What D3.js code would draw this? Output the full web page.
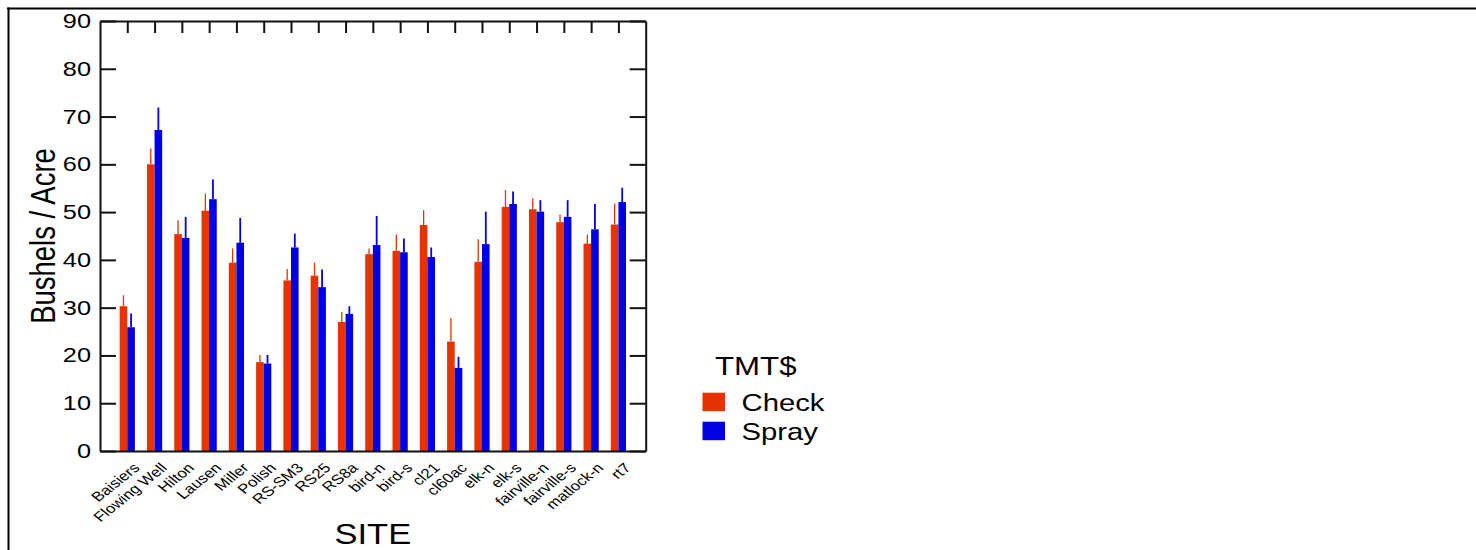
<!DOCTYPE html>
<html>
<head>
<meta charset="utf-8">
<script src="https://cdn.jsdelivr.net/npm/d3@7"></script>
<style>
  html, body { margin: 0; padding: 0; background: #fff; }
  text { font-family: "Liberation Sans", Arial, Helvetica, sans-serif; fill: #000; }
</style>
</head>
<body>
<svg id="chart" width="1476" height="550"></svg>
<script>
const categories = ["Baisiers", "Flowing Well", "Hilton", "Lausen", "Miller", "Polish", "RS-SM3", "RS25", "RS8a",
  "bird-n", "bird-s", "cl21", "cl60ac", "elk-n", "elk-s", "fairville-n", "fairville-s", "matlock-n", "rt7"];
const checkMeans = [30.3, 60.0, 45.4, 50.3, 39.4, 18.6, 35.7, 36.7, 27.0, 41.2, 41.9, 47.3, 22.9, 39.6, 51.1, 50.6, 47.9, 43.4, 47.4];
const checkSE    = [2.3, 3.3, 2.9, 3.6, 3.0, 1.5, 2.4, 2.7, 2.1, 1.2, 3.4, 3.1, 4.9, 4.7, 3.5, 2.3, 1.6, 1.9, 4.4];
const sprayMeans = [25.9, 67.2, 44.6, 52.7, 43.6, 18.3, 42.6, 34.3, 28.7, 43.1, 41.6, 40.6, 17.4, 43.3, 51.7, 50.1, 49.0, 46.4, 52.1];
const spraySE    = [2.9, 4.7, 4.4, 4.1, 5.2, 1.8, 2.9, 3.7, 1.6, 6.1, 2.9, 2.0, 2.3, 6.8, 2.6, 2.4, 3.5, 5.3, 3.0];
const yTicks = [0, 10, 20, 30, 40, 50, 60, 70, 80, 90];
const seriesNames = ["Check", "Spray"];
const seriesColors = ["#e63300", "#0000e2"];
const legendTitle = "TMT$";
const xTitle = "SITE";
const yTitle = "Bushels / Acre";

const SX = 1.25; // horizontal text stretch
const svg = d3.select("#chart");

const pL = 100, pR = 645.7, pT = 21, pB = 451;
const x = d3.scalePoint().domain(categories).range([pL, pR]).padding(1);
const y = d3.scaleLinear().domain([0, 90]).range([pB, pT]);

// outer frame (top and left edges)
svg.append("line").attr("x1", 7).attr("x2", 1476).attr("y1", 8.5).attr("y2", 8.5)
  .attr("stroke", "#000").attr("stroke-width", 2);
svg.append("line").attr("x1", 8.5).attr("x2", 8.5).attr("y1", 7.5).attr("y2", 550)
  .attr("stroke", "#000").attr("stroke-width", 2);

// bars
const data = categories.map((c, i) => ({
  c, vals: [ {m: checkMeans[i], se: checkSE[i], s: 0}, {m: sprayMeans[i], se: spraySE[i], s: 1} ]
}));
const barW = 7.6;
const g = svg.append("g");
data.forEach(d => {
  d.vals.forEach(v => {
    const x0 = v.s === 0 ? x(d.c) - barW : x(d.c);
    const cx = x0 + barW / 2;
    g.append("line").attr("x1", cx).attr("x2", cx)
      .attr("y1", y(v.m)).attr("y2", y(v.m + v.se))
      .attr("stroke", seriesColors[v.s]).attr("stroke-width", v.s === 0 ? 1.3 : 1.8);
    g.append("rect").attr("x", x0).attr("width", barW)
      .attr("y", y(v.m)).attr("height", y(0) - y(v.m))
      .attr("fill", seriesColors[v.s]);
  });
});

// axes
const axisStyle = sel => {
  sel.selectAll("path.domain").attr("stroke", "#111").attr("stroke-width", 2);
  sel.selectAll(".tick line").attr("stroke", "#111").attr("stroke-width", 2);
  sel.selectAll(".tick text").remove();
};
svg.append("g").attr("transform", `translate(${pL},0)`)
  .call(d3.axisLeft(y).tickValues(yTicks).tickSizeInner(-16).tickSizeOuter(0)).call(axisStyle);
svg.append("g").attr("transform", `translate(${pR},0)`)
  .call(d3.axisRight(y).tickValues(yTicks).tickSizeInner(-16).tickSizeOuter(0)).call(axisStyle);
svg.append("g").attr("transform", `translate(0,${pT})`)
  .call(d3.axisTop(x).tickSizeInner(-12).tickSizeOuter(0)).call(axisStyle);
svg.append("g").attr("transform", `translate(0,${pB})`)
  .call(d3.axisBottom(x).tickSizeInner(0).tickSizeOuter(0)).call(axisStyle);

// y tick labels
svg.append("g").selectAll("text").data(yTicks).join("text")
  .attr("transform", d => `translate(91,${y(d)}) scale(1.3,1)`)
  .attr("text-anchor", "end").attr("dy", "0.36em")
  .style("font-size", "19.5px").text(d => d);

// x category labels
svg.append("g").selectAll("text").data(categories).join("text")
  .attr("transform", d => `translate(${x(d) + 5},${pB + 11}) scale(${SX},1) rotate(-45)`)
  .attr("text-anchor", "end").attr("dy", "0.7em")
  .style("font-size", "13.5px").text(d => d);

// axis titles
svg.append("text")
  .attr("transform", `translate(55,${(pT + pB) / 2}) scale(1.3,1) rotate(-90)`)
  .attr("text-anchor", "middle").style("font-size", "27.5px").text(yTitle);
svg.append("text")
  .attr("transform", `translate(${(pL + pR) / 2},544) scale(1.15,1)`)
  .attr("text-anchor", "middle").style("font-size", "30px").text(xTitle);

// legend
const lg = svg.append("g");
lg.append("text").attr("transform", `translate(715,375) scale(1.25,1)`)
  .style("font-size", "25px").text(legendTitle);
seriesNames.forEach((n, i) => {
  const yy = 392.7 + i * 29;
  lg.append("rect").attr("x", 702.5).attr("y", yy).attr("width", 22.5).attr("height", 18.5)
    .attr("fill", seriesColors[i]);
  lg.append("text").attr("transform", `translate(741.5,${yy + 18}) scale(1.22,1)`)
    .style("font-size", "24px").text(n);
});
</script>
</body>
</html>
